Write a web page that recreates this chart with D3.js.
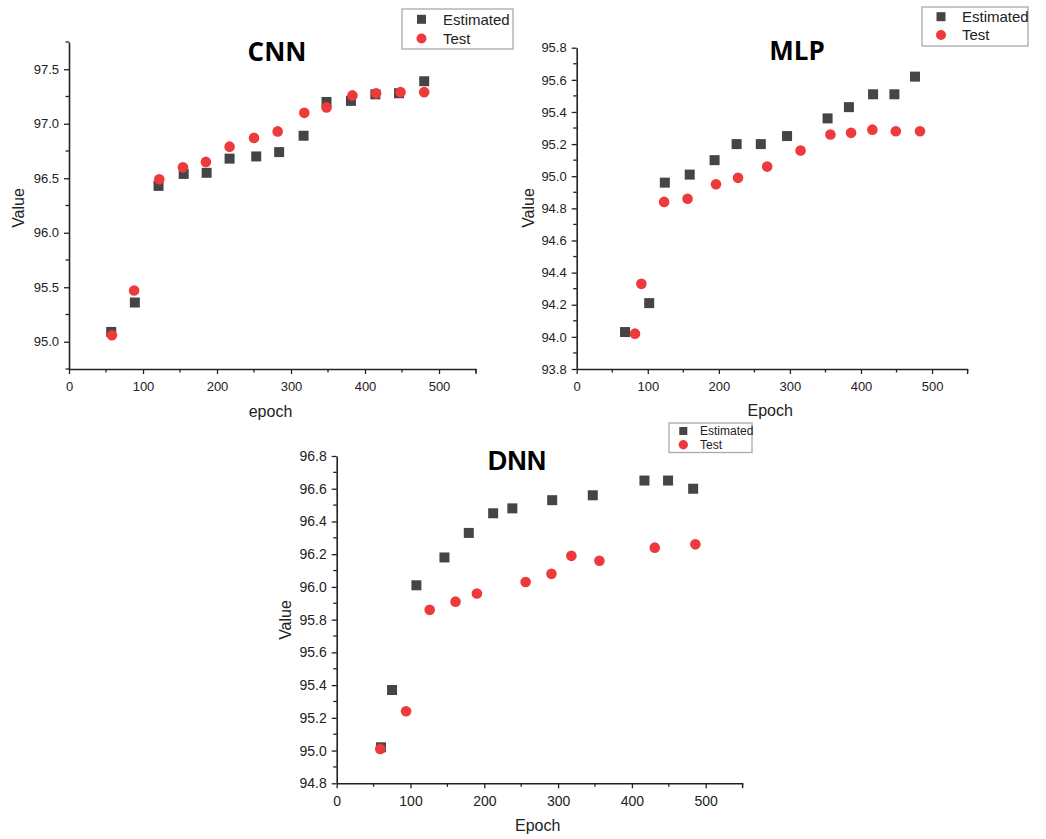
<!DOCTYPE html>
<html><head><meta charset="utf-8">
<script src="https://cdn.jsdelivr.net/npm/d3@7"></script>
<style>html,body{margin:0;padding:0;background:#fff;}svg{display:block;}</style>
</head><body>
<svg id="chart" width="1046" height="839"></svg>
<script>
// ---- Data ----
const cnnEstEpoch  = [57, 89, 121, 155, 186, 217, 253, 284, 317, 348, 381, 414, 446, 480];
const cnnEstValue  = [95.09, 95.36, 96.43, 96.54, 96.55, 96.68, 96.70, 96.74, 96.89, 97.20, 97.21, 97.27, 97.28, 97.39];
const cnnTestEpoch = [58, 88, 122, 154, 185, 217, 250, 282, 318, 348, 383, 415, 448, 480];
const cnnTestValue = [95.06, 95.47, 96.49, 96.60, 96.65, 96.79, 96.87, 96.93, 97.10, 97.15, 97.26, 97.28, 97.29, 97.29];

const mlpEstEpoch  = [68, 102, 124, 159, 194, 225, 259, 296, 353, 383, 417, 447, 476];
const mlpEstValue  = [94.03, 94.21, 94.96, 95.01, 95.10, 95.20, 95.20, 95.25, 95.36, 95.43, 95.51, 95.51, 95.62];
const mlpTestEpoch = [82, 91, 123, 156, 196, 227, 268, 315, 357, 386, 416, 449, 483];
const mlpTestValue = [94.02, 94.33, 94.84, 94.86, 94.95, 94.99, 95.06, 95.16, 95.26, 95.27, 95.29, 95.28, 95.28];

const dnnEstEpoch  = [60, 75, 108, 146, 179, 212, 238, 292, 347, 417, 449, 483];
const dnnEstValue  = [95.02, 95.37, 96.01, 96.18, 96.33, 96.45, 96.48, 96.53, 96.56, 96.65, 96.65, 96.60];
const dnnTestEpoch = [59, 94, 126, 161, 190, 256, 291, 318, 356, 431, 486];
const dnnTestValue = [95.01, 95.24, 95.86, 95.91, 95.96, 96.03, 96.08, 96.19, 96.16, 96.24, 96.26];

const xTickValues = [0, 100, 200, 300, 400, 500];
const seriesNames = ["Estimated", "Test"];

// ---- Styling / layout ----
const SQ_COLOR = "#454545";
const CIRC_COLOR = "#ee3a3c";
const AXIS_COLOR = "#222";

const panels = [
  { title: "CNN", titleFont: "'Open Sans', sans-serif", titleSize: 26, xLabel: "epoch",
    left: 69, right: 476, top: 42, bottom: 369,
    yDomain: [94.75, 97.75], yMajor: 0.5, yMinor: 0.25, yFmt: ".1f",
    est: [cnnEstEpoch, cnnEstValue], test: [cnnTestEpoch, cnnTestValue],
    titleX: 277, titleY: 61, yLabelX: 24, yLabelY: 208, xLabelY: 417,
    legend: { x: 402, y: 9, w: 111, h: 40, mx: 421.5, my1: 19.3, my2: 38.5, tx: 443, fs: 15, sq: 9, r: 5 },
    tickFs: 13, markSq: 10, markR: 5.3 },
  { title: "MLP", titleFont: "'Open Sans', sans-serif", titleSize: 26, xLabel: "Epoch",
    left: 576.7, right: 967.6, top: 47.7, bottom: 369,
    yDomain: [93.8, 95.8], yMajor: 0.2, yMinor: 0.1, yFmt: ".1f",
    est: [mlpEstEpoch, mlpEstValue], test: [mlpTestEpoch, mlpTestValue],
    titleX: 797, titleY: 60, yLabelX: 534, yLabelY: 208, xLabelY: 416,
    legend: { x: 922, y: 7, w: 106, h: 39, mx: 941, my1: 16.7, my2: 35, tx: 962, fs: 15, sq: 9, r: 5 },
    tickFs: 13, markSq: 10, markR: 5.3 },
  { title: "DNN", titleFont: "'Liberation Sans', Arial, sans-serif", titleSize: 27, xLabel: "Epoch",
    left: 336.7, right: 742.6, top: 456, bottom: 783.3,
    yDomain: [94.8, 96.8], yMajor: 0.2, yMinor: 0.1, yFmt: ".1f",
    est: [dnnEstEpoch, dnnEstValue], test: [dnnTestEpoch, dnnTestValue],
    titleX: 517, titleY: 470, yLabelX: 291, yLabelY: 620, xLabelY: 831,
    legend: { x: 669, y: 423, w: 83, h: 29.5, mx: 683.3, my1: 431, my2: 444.7, tx: 700, fs: 12, sq: 8, r: 4.7 },
    tickFs: 14, markSq: 10, markR: 5.3 }
];

const svg = d3.select("#chart");
const FONT = "'Liberation Sans', Arial, sans-serif";

panels.forEach(p => {
  const x = d3.scaleLinear().domain([0, 550]).range([p.left, p.right]);
  const y = d3.scaleLinear().domain(p.yDomain).range([p.bottom, p.top]);
  const g = svg.append("g");

  // minor ticks
  const xMinor = d3.range(0, 551, 50);
  const yMinor = d3.range(Math.round(p.yDomain[0] / p.yMinor), Math.round(p.yDomain[1] / p.yMinor) + 1)
    .map(k => +(k * p.yMinor).toFixed(3));

  // X axis
  const xAxis = d3.axisBottom(x).tickValues(xTickValues).tickFormat(d3.format("d")).tickSize(5).tickSizeOuter(0).tickPadding(4);
  const gx = g.append("g").attr("transform", `translate(0,${p.bottom})`).call(xAxis);
  gx.append("g").selectAll("line").data(xMinor.filter(v => xTickValues.indexOf(v) < 0)).join("line")
    .attr("x1", d => x(d)).attr("x2", d => x(d)).attr("y1", 0).attr("y2", 3.5)
    .attr("stroke", AXIS_COLOR).attr("stroke-width", 1.3);
  gx.append("line").attr("x1", x(550)).attr("x2", x(550)).attr("y1", 0).attr("y2", 5)
    .attr("stroke", AXIS_COLOR).attr("stroke-width", 1.3);

  // Y axis
  const yMajorVals = yMinor.filter(v => Math.abs(v / p.yMajor - Math.round(v / p.yMajor)) < 1e-6 &&
    (p.title !== "CNN" || (v >= 95 && v <= 97.5)));
  const yAxis = d3.axisLeft(y).tickValues(yMajorVals).tickFormat(d3.format(p.yFmt)).tickSize(5).tickSizeOuter(0).tickPadding(5);
  const gy = g.append("g").attr("transform", `translate(${p.left},0)`).call(yAxis);
  gy.append("g").selectAll("line").data(yMinor.filter(v => yMajorVals.indexOf(v) < 0)).join("line")
    .attr("x1", 0).attr("x2", -3.5).attr("y1", d => y(d)).attr("y2", d => y(d))
    .attr("stroke", AXIS_COLOR).attr("stroke-width", 1.3);

  [gx, gy].forEach(a => {
    a.selectAll(".domain").attr("stroke", AXIS_COLOR).attr("stroke-width", 1.6);
    a.selectAll(".tick line").attr("stroke", AXIS_COLOR).attr("stroke-width", 1.3);
    a.selectAll("text").attr("font-family", FONT).attr("font-size", p.tickFs).attr("fill", "#222");
  });
  gx.selectAll(".tick text").attr("dy", "1em");

  // axis titles
  g.append("text").attr("x", (p.left + p.right) / 2 - 2).attr("y", p.xLabelY)
    .attr("text-anchor", "middle").attr("font-family", FONT).attr("font-size", 16).attr("fill", "#222").text(p.xLabel);
  g.append("text").attr("transform", `translate(${p.yLabelX},${p.yLabelY}) rotate(-90)`)
    .attr("text-anchor", "middle").attr("font-family", FONT).attr("font-size", 16).attr("fill", "#222").text("Value");

  // title
  g.append("text").attr("x", p.titleX).attr("y", p.titleY).attr("text-anchor", "middle")
    .attr("font-family", p.titleFont).attr("font-weight", "bold").attr("font-size", p.titleSize)
    .attr("fill", "#000").text(p.title);

  // data points
  const est = p.est[0].map((e, i) => ({ e, v: p.est[1][i] }));
  const test = p.test[0].map((e, i) => ({ e, v: p.test[1][i] }));
  g.append("g").selectAll("rect").data(est).join("rect")
    .attr("x", d => x(d.e) - p.markSq / 2).attr("y", d => y(d.v) - p.markSq / 2)
    .attr("width", p.markSq).attr("height", p.markSq).attr("fill", SQ_COLOR);
  g.append("g").selectAll("circle").data(test).join("circle")
    .attr("cx", d => x(d.e)).attr("cy", d => y(d.v)).attr("r", p.markR).attr("fill", CIRC_COLOR);

  // legend
  const L = p.legend;
  const lg = g.append("g");
  lg.append("rect").attr("x", L.x).attr("y", L.y).attr("width", L.w).attr("height", L.h)
    .attr("fill", "#fff").attr("stroke", "#aaa").attr("stroke-width", 1.3);
  lg.append("rect").attr("x", L.mx - L.sq / 2).attr("y", L.my1 - L.sq / 2).attr("width", L.sq).attr("height", L.sq).attr("fill", SQ_COLOR);
  lg.append("circle").attr("cx", L.mx).attr("cy", L.my2).attr("r", L.r).attr("fill", CIRC_COLOR);
  [L.my1, L.my2].forEach((yy, i) => {
    lg.append("text").attr("x", L.tx).attr("y", yy).attr("dy", "0.35em")
      .attr("font-family", FONT).attr("font-size", L.fs).attr("fill", "#222").text(seriesNames[i]);
  });
});
</script>
</body></html>
